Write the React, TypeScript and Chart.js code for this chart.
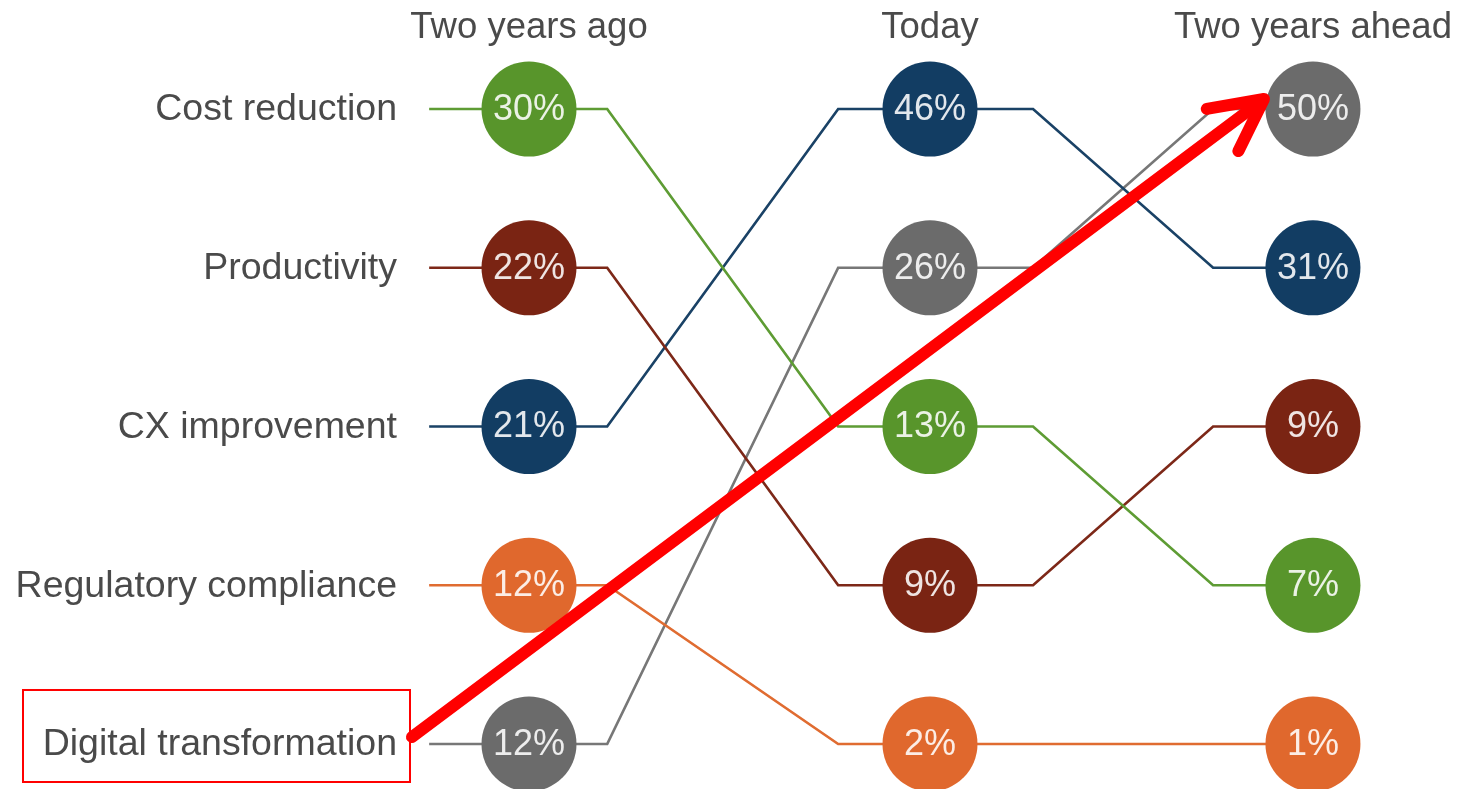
import React, { useEffect, useRef } from "react";
import { Chart, registerables } from "chart.js";

Chart.register(...registerables);

// ---- data ----
const CATEGORIES = [
  "Cost reduction",
  "Productivity",
  "CX improvement",
  "Regulatory compliance",
  "Digital transformation",
];
const PERIODS = ["Two years ago", "Today", "Two years ahead"];
const TWO_YEARS_AGO = [30, 22, 21, 12, 12];
const TODAY = [13, 9, 46, 2, 26];
const TWO_YEARS_AHEAD = [7, 9, 31, 1, 50];

// ---- styles / layout ----
const FILL_COLORS = ["#58952b", "#7a2413", "#123d63", "#e0682d", "#6b6b6b"];
const LINE_COLORS = ["#5e9c34", "#7d2818", "#1a4266", "#e06c31", "#777777"];
const COL_POS = [0, 1, 1.955];
const KNEE_OUT = [0.195, 0.257];
const KNEE_IN = [0.229, 0.249];
const LINE_START = -0.249;
const FONT = '"Liberation Sans", Arial, Helvetica, sans-serif';

function ranksOf(values: number[]): number[] {
  const idx = values.map((v, i) => i);
  idx.sort((a, b) => (values[b] - values[a]) || (a - b));
  const r = new Array(values.length).fill(0);
  idx.forEach((ci, k) => (r[ci] = k + 1));
  return r;
}

export default function App() {
  const ref = useRef<HTMLCanvasElement | null>(null);

  useEffect(() => {
    const cols = [TWO_YEARS_AGO, TODAY, TWO_YEARS_AHEAD];
    const ranks = cols.map(ranksOf);

    const lineSets = CATEGORIES.map((name, i) => {
      const pts: { x: number; y: number }[] = [];
      pts.push({ x: COL_POS[0] + LINE_START, y: ranks[0][i] });
      for (let c = 0; c < cols.length; c++) {
        if (c > 0) pts.push({ x: COL_POS[c] - KNEE_IN[c - 1], y: ranks[c][i] });
        pts.push({ x: COL_POS[c], y: ranks[c][i] });
        if (c < cols.length - 1) pts.push({ x: COL_POS[c] + KNEE_OUT[c], y: ranks[c][i] });
      }
      return {
        type: "line" as const,
        label: name,
        data: pts,
        borderColor: LINE_COLORS[i],
        borderWidth: 2.7,
        pointRadius: 0,
        tension: 0,
        fill: false,
        clip: false,
        order: 2,
      };
    });

    const circlePts: { x: number; y: number; v: number }[] = [];
    const circleColors: string[] = [];
    cols.forEach((vals, c) => {
      vals.forEach((v, i) => {
        circlePts.push({ x: COL_POS[c], y: ranks[c][i], v });
        circleColors.push(FILL_COLORS[i]);
      });
    });

    const circleSet = {
      type: "scatter" as const,
      label: "circles",
      data: circlePts,
      backgroundColor: circleColors,
      borderWidth: 0,
      pointRadius: 47.5,
      pointHoverRadius: 47.5,
      showLine: false,
      clip: false,
      order: 0,
    };

    const textPlugin = {
      id: "bumpText",
      afterDatasetsDraw(chart: any) {
        const ctx = chart.ctx;
        const xs = chart.scales.x;
        const ys = chart.scales.y;
        ctx.save();
        // percent labels
        ctx.font = `36px ${FONT}`;
        ctx.fillStyle = "rgba(255,255,255,0.88)";
        ctx.textAlign = "center";
        ctx.textBaseline = "middle";
        circlePts.forEach((p) => {
          ctx.fillText(`${p.v}%`, xs.getPixelForValue(p.x), ys.getPixelForValue(p.y) + 1);
        });
        // column headers
        ctx.font = `36.5px ${FONT}`;
        ctx.fillStyle = "#4a4a4a";
        PERIODS.forEach((p, c) => {
          ctx.fillText(p, xs.getPixelForValue(COL_POS[c]), chart.chartArea.top + 28);
        });
        // category labels
        ctx.font = `37.5px ${FONT}`;
        ctx.textAlign = "right";
        const labelX = xs.getPixelForValue(COL_POS[0]) - 132;
        CATEGORIES.forEach((name, i) => {
          ctx.fillText(name, labelX, ys.getPixelForValue(ranks[0][i]) + 1);
        });

        // annotation: red box around last category and arrow to top of future column
        const lastIdx = CATEGORIES.length - 1;
        const rowY = ys.getPixelForValue(ranks[0][lastIdx]);
        ctx.strokeStyle = "#ff0000";
        ctx.lineWidth = 2;
        ctx.strokeRect(23, rowY - 54, labelX + 13 - 23, 92);

        const tx = labelX + 15;
        const ty = rowY - 7;
        const target = ranks[2][lastIdx];
        const hx = xs.getPixelForValue(COL_POS[2]) - 49;
        const hy = ys.getPixelForValue(target) - 10;
        ctx.lineWidth = 12;
        ctx.lineCap = "round";
        ctx.lineJoin = "round";
        ctx.beginPath();
        ctx.moveTo(tx, ty);
        ctx.lineTo(hx - 4, hy + 3);
        ctx.stroke();
        const ang = Math.atan2(ty - hy, tx - hx);
        const spread = (27 * Math.PI) / 180;
        const len = 58;
        ctx.beginPath();
        ctx.moveTo(hx + Math.cos(ang - spread) * len, hy + Math.sin(ang - spread) * len);
        ctx.lineTo(hx, hy);
        ctx.lineTo(hx + Math.cos(ang + spread) * len, hy + Math.sin(ang + spread) * len);
        ctx.stroke();
        ctx.restore();
      },
    };

    const chart = new Chart(ref.current as HTMLCanvasElement, {
      type: "line",
      data: { datasets: [circleSet as any, ...lineSets] },
      options: {
        responsive: false,
        animation: false,
        events: [],
        layout: { padding: 0, autoPadding: false },
        plugins: { legend: { display: false }, tooltip: { enabled: false }, title: { display: false } },
        scales: {
          x: { type: "linear", min: -1.3192, max: 2.3217, display: false },
          y: { type: "linear", reverse: true, min: 0.3134, max: 5.2835, display: false },
        },
      },
      plugins: [textPlugin],
    });
    return () => chart.destroy();
  }, []);

  return (
    <div style={{ position: "fixed", left: 0, top: 0, width: 1460, height: 789, background: "#ffffff" }}>
      <canvas ref={ref} width={1460} height={789} style={{ width: 1460, height: 789 }} />
    </div>
  );
}
